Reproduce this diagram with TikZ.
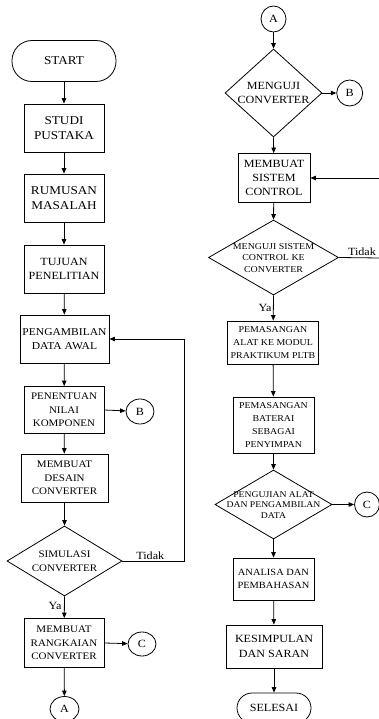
\documentclass[tikz,border=0pt]{standalone}
\usepackage{fontspec}
\setmainfont{Liberation Serif}[FakeStretch=1.1]
\usetikzlibrary{arrows.meta,shapes.geometric}
\newcommand{\tx}[2]{\fontsize{#1}{#2}\selectfont}
\tikzset{
  every path/.style={line width=0.8pt},
  arr/.style={-{Triangle[length=5.5pt,width=4.5pt]}},
  box/.style={draw, rectangle, inner sep=0pt, align=center, line width=0.8pt},
  term/.style={draw, rectangle, inner sep=0pt, align=center, line width=0.8pt},
  dia/.style={draw, diamond, inner sep=0pt, line width=0.8pt},
  dtext/.style={inner sep=0pt, align=center},
  conn/.style={draw, ellipse, inner sep=0pt, line width=0.8pt, font=\tx{11}{13}},
  lbl/.style={inner sep=0pt, font=\tx{11}{13}}
}
\begin{document}
\begin{tikzpicture}[x=1pt,y=-1pt]
\useasboundingbox (0,0) rectangle (378,719);
% ---------- left column ----------
\node[term, rounded corners=20pt, minimum width=104pt, minimum height=41pt, font=\tx{12}{14.3}] (start) at (64,61) {START};
\node[box, minimum width=80pt, minimum height=48pt, font=\tx{12}{14.3}] (studi) at (64,128) {STUDI\\PUSTAKA};
\node[box, minimum width=80pt, minimum height=48pt, font=\tx{12}{14.3}] (rumusan) at (64,198) {RUMUSAN\\MASALAH};
\node[box, minimum width=80pt, minimum height=48pt, font=\tx{11}{14}] (tujuan) at (64,269) {TUJUAN\\PENELITIAN};
\node[box, minimum width=89pt, minimum height=48pt, font=\tx{10.5}{14}] (ambil) at (64.5,339) {PENGAMBILAN\\DATA AWAL};
\node[box, minimum width=80pt, minimum height=47pt, font=\tx{10}{13.5}] (tentu) at (64,410) {PENENTUAN\\NILAI\\KOMPONEN};
\node[box, minimum width=87pt, minimum height=48pt, font=\tx{10}{13.5}] (desain) at (64.5,478) {MEMBUAT\\DESAIN\\CONVERTER};
\node[dia, minimum width=115pt, minimum height=70pt] (sim) at (64.5,561) {};
\node[dtext, font=\tx{10}{14}] (simt) at (sim.center) {SIMULASI\\CONVERTER};
\node[box, minimum width=80pt, minimum height=49pt, font=\tx{10}{13.5}] (rangkai) at (64,643) {MEMBUAT\\RANGKAIAN\\CONVERTER};
\node[conn, minimum width=28pt, minimum height=25pt] (B1) at (140,411.5) {B};
\node[conn, minimum width=28pt, minimum height=24pt] (C1) at (142,644) {C};
\node[conn, minimum width=29pt, minimum height=25pt] (A1) at (64.5,709) {A};
\coordinate (fbx) at (184,0);
\node[lbl, anchor=south west] (tidak1) at (136,560) {Tidak};
\node[lbl, anchor=east] (ya1) at (62,606) {Ya};
% ---------- right column ----------
\node[conn, minimum width=25pt, minimum height=26pt] (A2) at (273.5,19) {A};
\node[dia, minimum width=97pt, minimum height=88pt] (uji) at (273.5,93) {};
\node[dtext, font=\tx{11}{14}] (ujit) at (uji.center) {MENGUJI\\CONVERTER};
\node[conn, minimum width=26pt, minimum height=26pt] (B2) at (349.7,93) {B};
\node[box, minimum width=72pt, minimum height=49pt, font=\tx{11}{14}] (sistem) at (274,178) {MEMBUAT\\SISTEM\\CONTROL};
\coordinate (inR) at (380,178);
\node[dia, minimum width=130pt, minimum height=75pt] (ujisys) at (273.5,257.5) {};
\node[dtext, font=\tx{9}{11.5}] (ujisyst) at (273.5,258) {MENGUJI SISTEM\\CONTROL KE\\CONVERTER};
\coordinate (outR) at (380,258);
\node[lbl, anchor=south] (tidak2) at (362,256) {Tidak};
\node[lbl, anchor=east] (ya2) at (272,308) {Ya};
\node[box, minimum width=91pt, minimum height=43pt, font=\tx{9}{13}] (alat) at (273,342.5) {PEMASANGAN\\ALAT KE MODUL\\PRAKTIKUM PLTB};
\node[box, minimum width=81pt, minimum height=56pt, font=\tx{9}{13}] (baterai) at (273.5,425) {PEMASANGAN\\BATERAI\\SEBAGAI\\PENYIMPAN};
\node[dia, minimum width=117pt, minimum height=69pt] (peng) at (273.5,504.5) {};
\node[dtext, font=\tx{8.8}{10.8}] (pengt) at (273.5,505) {PENGUJIAN ALAT\\DAN PENGAMBILAN\\DATA};
\node[conn, minimum width=25pt, minimum height=25pt] (C2) at (367,504.5) {C};
\node[box, minimum width=81pt, minimum height=42pt, font=\tx{9.5}{13.5}] (analisa) at (273.5,579) {ANALISA DAN\\PEMBAHASAN};
\node[box, minimum width=96pt, minimum height=43pt, font=\tx{11}{14.5}] (simpul) at (274,646.5) {KESIMPULAN\\DAN SARAN};
\node[term, rounded corners=15pt, minimum width=74pt, minimum height=30pt, font=\tx{11}{13}] (selesai) at (274,708) {SELESAI};
% ---------- connectors left ----------
\draw[arr] (start) -- (studi);
\draw[arr] (studi) -- (rumusan);
\draw[arr] (rumusan) -- (tujuan);
\draw[arr] (tujuan) -- (ambil);
\draw[arr] (ambil) -- (tentu);
\draw[arr] (tentu) -- (desain);
\draw[arr] (desain) -- (sim.north);
\draw[arr] (sim.south) -- (rangkai);
\draw[arr] (rangkai) -- (A1);
\draw[arr] (tentu.east) -- (B1);
\draw[arr] (rangkai.east) -- (C1);
\draw[arr] (sim.east) -- (sim.east -| fbx) |- (ambil.east);
% ---------- connectors right ----------
\draw[arr] (A2) -- (uji.north);
\draw[arr] (uji.east) -- (B2);
\draw[arr] (uji.south) -- (sistem);
\draw[arr] (inR) -- (sistem.east);
\draw[arr] (sistem) -- (ujisys.north);
\draw (ujisys.east) -- (outR);
\draw[arr] (ujisys.south) -- (alat);
\draw[arr] (alat) -- (baterai);
\draw[arr] (baterai) -- (peng.north);
\draw[arr] (peng.east) -- (C2);
\draw[arr] (peng.south) -- (analisa);
\draw[arr] (analisa) -- (simpul);
\draw[arr] (simpul) -- (selesai);
\end{tikzpicture}
\end{document}
